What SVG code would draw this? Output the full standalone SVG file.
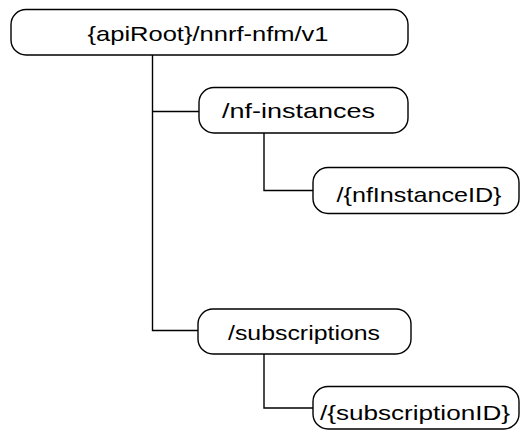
<svg xmlns="http://www.w3.org/2000/svg" width="520" height="430" viewBox="0 0 520 430">
<style>
.box{fill:#fff;stroke:#000;stroke-width:1.4}
.lbl{font-family:"Liberation Sans",Arial,sans-serif;font-size:21px;fill:#000;text-anchor:middle}
.con{fill:none;stroke:#000;stroke-width:1.4}
</style>
<rect width="520" height="430" fill="#fff"/>
<g id="connectors">
<path class="con" d="M152.5,55 V330.5 H198"/>
<path class="con" d="M152.5,111.5 H199"/>
<path class="con" d="M264,133 V190.5 H313"/>
<path class="con" d="M264,354 V408 H313"/>
</g>
<g id="root">
<rect class="box" x="11" y="9.5" width="397" height="45.5" rx="15"/>
<text class="lbl" x="208" y="41" textLength="241" lengthAdjust="spacingAndGlyphs">{apiRoot}/nnrf-nfm/v1</text>
</g>
<g id="nf-instances">
<rect class="box" x="199" y="87.5" width="209" height="45.5" rx="15"/>
<text class="lbl" x="298.5" y="118" textLength="153" lengthAdjust="spacingAndGlyphs">/nf-instances</text>
</g>
<g id="nfInstanceID">
<rect class="box" x="313" y="167.5" width="206" height="46" rx="15"/>
<text class="lbl" x="419" y="201.5" textLength="165" lengthAdjust="spacingAndGlyphs">/{nfInstanceID}</text>
</g>
<g id="subscriptions">
<rect class="box" x="198" y="309" width="213" height="45" rx="15"/>
<text class="lbl" x="304" y="340" textLength="152" lengthAdjust="spacingAndGlyphs">/subscriptions</text>
</g>
<g id="subscriptionID">
<rect class="box" x="313" y="386.5" width="206" height="42.5" rx="15"/>
<text class="lbl" x="415" y="420" textLength="190" lengthAdjust="spacingAndGlyphs">/{subscriptionID}</text>
</g>
</svg>
